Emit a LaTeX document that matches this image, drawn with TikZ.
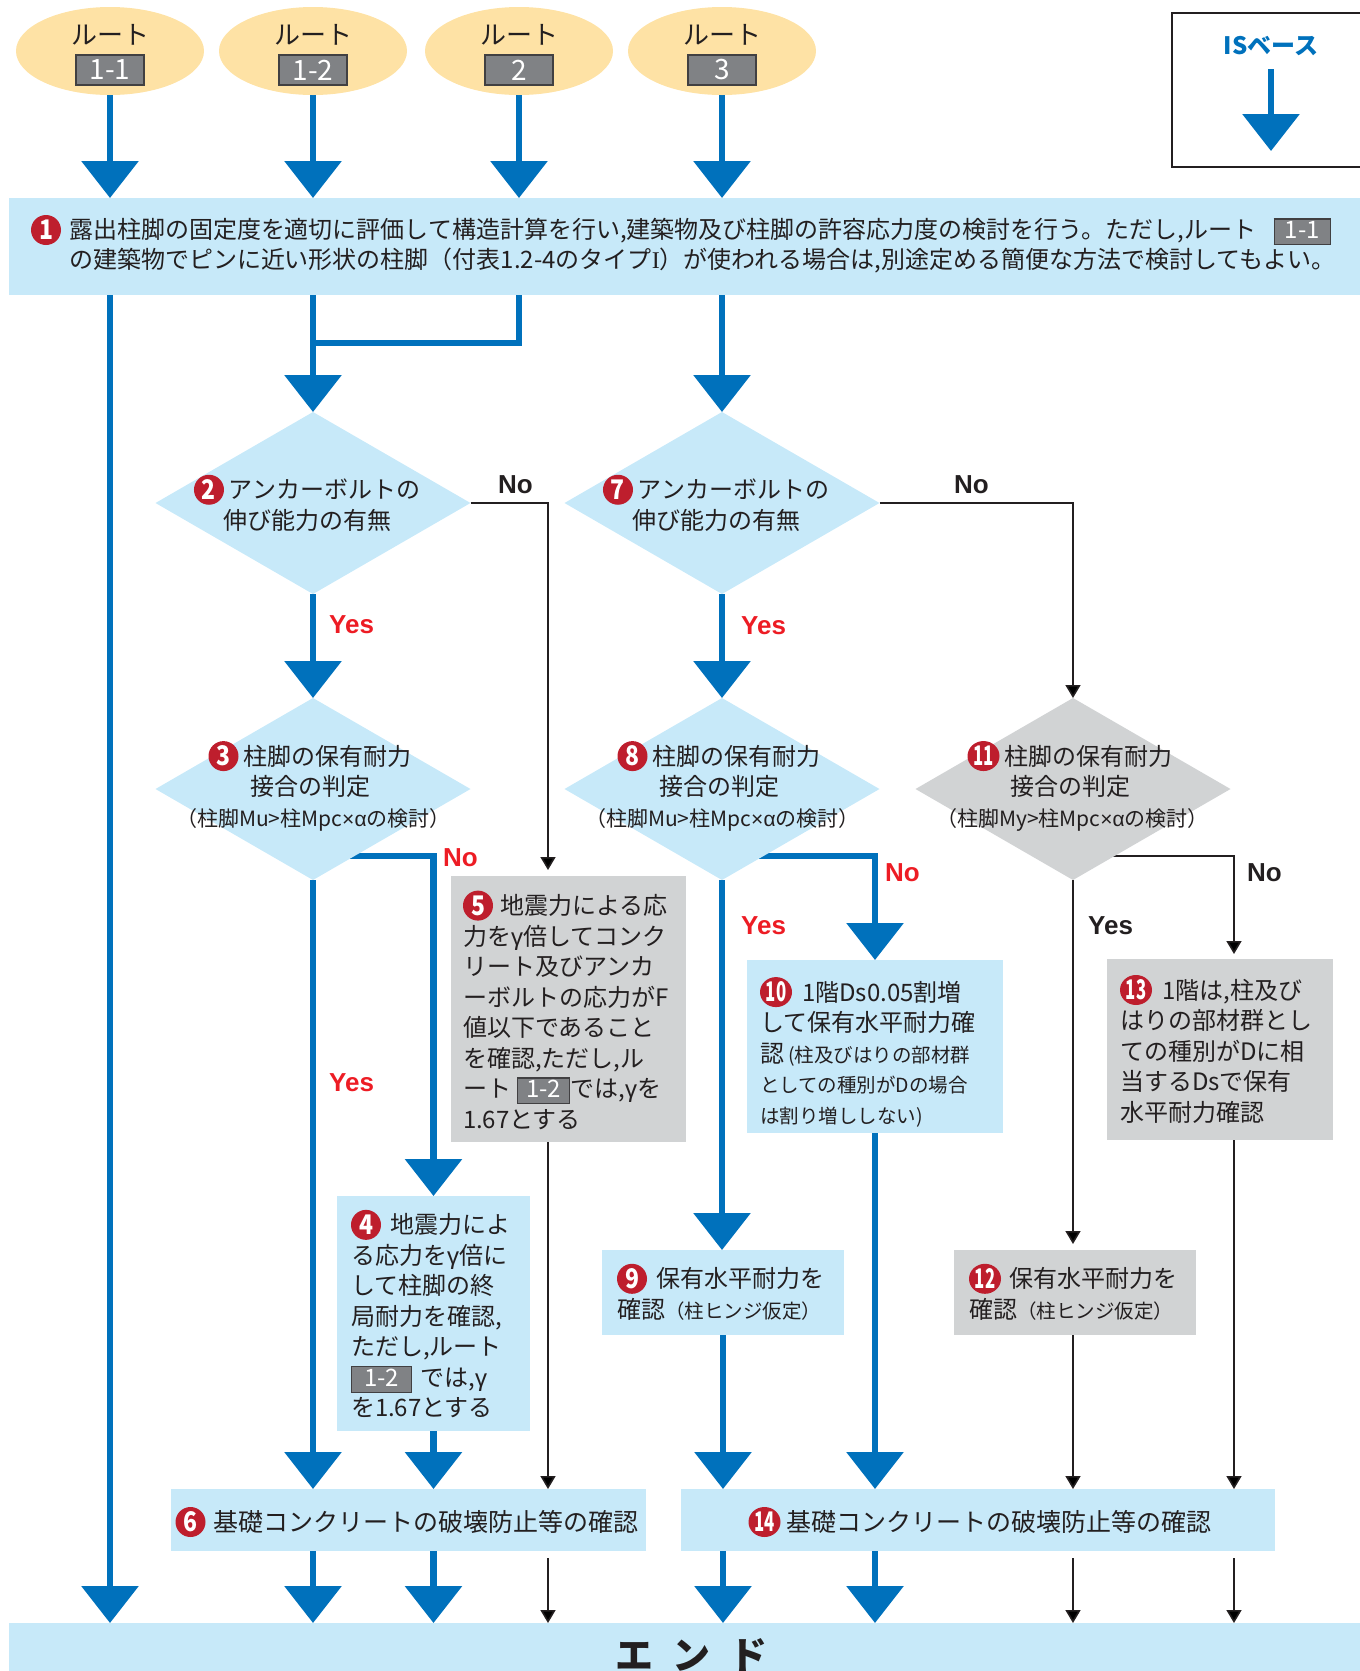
\documentclass[tikz,border=0pt]{standalone}
\usepackage{fontspec}
\usepackage{graphicx}
\setmainfont{Noto Sans CJK JP}
\newfontfamily\lat{Liberation Sans}
\newfontfamily\ser{Liberation Serif}
\usetikzlibrary{shapes.geometric,arrows.meta}
\XeTeXlinebreaklocale "ja"
\XeTeXlinebreakskip=0pt plus 6pt
\definecolor{lb}{RGB}{199,233,249}
\definecolor{blueA}{RGB}{0,113,188}
\definecolor{gbox}{RGB}{209,211,212}
\definecolor{peach}{RGB}{254,226,165}
\definecolor{numred}{RGB}{190,30,45}
\definecolor{redtxt}{RGB}{237,28,36}
\definecolor{ink}{RGB}{35,31,32}
\definecolor{boxgray}{RGB}{128,130,133}
\definecolor{boxedge}{RGB}{65,64,66}
\setlength\fboxsep{1.5pt}
\setlength\fboxrule{1.2pt}
\newcommand\rnum[2][30pt]{\tikz[baseline={([yshift=-9pt]rn.center)}]\node[shape=ellipse,anchor=center,fill=numred,draw=none,text=white,inner sep=0pt,outer sep=0pt,minimum width=#1,minimum height=30pt,align=center,font=\fontsize{27}{27}\selectfont\bfseries](rn){#2};}
\newcommand\rbox[2][50pt]{\fcolorbox{boxedge}{boxgray}{\rule[-4pt]{0pt}{21pt}\makebox[#1]{\textcolor{white}{#2}}}}
\newcommand\jl[2]{\makebox[#1][s]{#2}}
\newcommand\sm{\fontsize{19.5}{30.5}\selectfont}
\newcommand\tw[1]{\scalebox{0.62}[1]{#1}}
\newcommand\on[1]{\scalebox{0.85}[1]{#1}}
\pgfdeclarelayer{bg}
\pgfsetlayers{bg,main}
\begin{document}
\begin{tikzpicture}[x=1pt,y=-1pt,
  txt/.style={inner sep=0pt,outer sep=0pt,text=ink,align=left,font=\fontsize{24}{30.5}\selectfont},
  ctxt/.style={txt,align=center},
  bx/.style={shape=rectangle,inner sep=0pt,outer sep=0pt,draw=none},
  dia/.style={shape=diamond,aspect=1.73,minimum width=315pt,minimum height=182pt,inner sep=0pt,outer sep=0pt,draw=none},
  ell/.style={shape=ellipse,fill=peach,minimum width=188pt,minimum height=88pt,inner sep=0pt,draw=none},
  lblbox/.style={shape=rectangle,fill=boxgray,draw=boxedge,line width=1.2pt,text=white,minimum width=68pt,minimum height=30pt,inner sep=0pt,font=\fontsize{28}{28}\selectfont},
  rt/.style={inner sep=0pt,text=ink,font=\fontsize{26}{26}\selectfont},
  numc/.style={shape=ellipse,fill=numred,draw=none,text=white,inner sep=0pt,minimum width=30pt,minimum height=30pt,font=\fontsize{27}{27}\selectfont\bfseries},
  barrow/.style={draw=blueA,line width=6.5pt,-{Triangle[width=56pt,length=37pt]}},
  bline/.style={draw=blueA,line width=6.5pt},
  karrow/.style={draw=ink,line width=1.6pt,-{Triangle[width=15pt,length=13pt]}},
  lab/.style={inner sep=0pt,anchor=west,font=\lat\bfseries\fontsize{26}{26}\selectfont},
]
\useasboundingbox (0,0) rectangle (1360,1671);

% route ellipses
\foreach \nm/\x/\t in {1/110/1-1,2/313/1-2,3/519/2,4/722/3}{
  \node[ell] (e\nm) at (\x,51) {};
  \node[rt] (r\nm) at (\x,35) {ルート};
  \node[lblbox] (b\nm) at (\x,70) {\t};
}

% IS base legend
\node[bx,draw=ink,line width=1.3pt,minimum width=200pt,minimum height=154pt] (isbox) at (1272,90) {};
\node[inner sep=0pt,text=blueA,font=\bfseries\fontsize{24}{24}\selectfont] (is) at (1271,46) {ISベース};
\coordinate (isA) at (1271,69);
\coordinate (isB) at (1271,151);

% node 1
\node[bx,fill=lb,minimum width=1360pt,minimum height=97pt] (n1) at (689,246.5) {};
\node[numc] (t1n) at (46,230) {\on{1}};
\node[txt,anchor=west] (t1) at (69,245.5) {\jl{1262pt}{露出柱脚の固定度を適切に評価して構造計算を行い,建築物及び柱脚の許容応力度の検討を行う。ただし,ルート \rbox[52pt]{1-1}}\\
\jl{1268pt}{の建築物でピンに近い形状の柱脚（付表1.2-4のタイプ{\ser I}）が使われる場合は,別途定める簡便な方法で検討してもよい。}};

% diamonds
\node[dia,fill=lb] (d2) at (313,503) {};
\node[ctxt] (td2) at (307,503) {\rnum{\on{2}}\hspace{5pt}アンカーボルトの\\伸び能力の有無};
\node[dia,fill=lb] (d7) at (722,503) {};
\node[ctxt] (td7) at (716,503) {\rnum{\on{7}}\hspace{5pt}アンカーボルトの\\伸び能力の有無};
\node[dia,fill=lb] (d3) at (313,789) {};
\node[ctxt] (td3) at (310,786) {\rnum{\on{3}}\hspace{5pt}柱脚の保有耐力\\接合の判定\\{\fontsize{21}{30.5}\selectfont\jl{268pt}{（柱脚Mu>柱Mpc{\lat ×}{\lat α}の検討）}}};
\node[dia,fill=lb] (d8) at (722,789) {};
\node[ctxt] (td8) at (719,786) {\rnum{\on{8}}\hspace{5pt}柱脚の保有耐力\\接合の判定\\{\fontsize{21}{30.5}\selectfont\jl{268pt}{（柱脚Mu>柱Mpc{\lat ×}{\lat α}の検討）}}};
\node[dia,fill=gbox] (d11) at (1073,789) {};
\node[ctxt] (td11) at (1070,786) {\rnum[32pt]{\tw{11}}\hspace{5pt}柱脚の保有耐力\\接合の判定\\{\fontsize{21}{30.5}\selectfont\jl{268pt}{（柱脚My>柱Mpc{\lat ×}{\lat α}の検討）}}};

% boxes
\node[bx,fill=lb,minimum width=193pt,minimum height=235pt] (n4) at (433.5,1313.5) {};
\node[txt,anchor=west] (t4) at (351,1314) {\jl{166pt}{\rnum{\on{4}}\hspace{9pt}地震力によ}\\
\jl{166pt}{る応力を{\lat γ}倍に}\\
\jl{166pt}{して柱脚の終}\\
\jl{166pt}{局耐力を確認,}\\
\jl{166pt}{ただし,ルート}\\
\jl{166pt}{\rbox[56pt]{1-2}\hspace{8pt}では,{\lat γ}}\\
を1.67とする};

\node[bx,fill=gbox,minimum width=235pt,minimum height=266pt] (n5) at (568.5,1009) {};
\node[txt,anchor=west] (t5) at (463,1010) {\jl{211pt}{\rnum{\on{5}}\hspace{7pt}地震力による応}\\
\jl{211pt}{力を{\lat γ}倍してコンク}\\
\jl{211pt}{リート及びアンカ}\\
\jl{211pt}{ーボルトの応力がF}\\
\jl{211pt}{値以下であること}\\
\jl{211pt}{を確認,ただし,ル}\\
\jl{211pt}{ート\hspace{6pt}\rbox[48pt]{1-2}では,{\lat γ}を}\\
1.67とする};

\node[bx,fill=lb,minimum width=475pt,minimum height=62pt] (n6) at (408.5,1520) {};
\node[txt,font=\fontsize{25}{30}\selectfont] (t6) at (407,1522) {\rnum{\on{6}}\hspace{8pt}基礎コンクリートの破壊防止等の確認};

\node[bx,fill=lb,minimum width=242pt,minimum height=85pt] (n9) at (723,1292.5) {};
\node[txt,anchor=west] (t9) at (617,1292) {\rnum{\on{9}}\hspace{9pt}保有水平耐力を\\確認{\sm（柱ヒンジ仮定）}};

\node[bx,fill=lb,minimum width=256pt,minimum height=173pt] (n10) at (875,1046.5) {};
\node[txt,anchor=west] (t10) at (760,1052) {\jl{229pt}{\rnum[32pt]{\tw{10}}\hspace{10pt}1階Ds0.05割増}\\
\jl{229pt}{して保有水平耐力確}\\
\jl{229pt}{認\,{\sm (柱及びはりの部材群}}\\
\jl{229pt}{{\sm としての種別がDの場合}}\\
{\sm は割り増ししない)}};

\node[bx,fill=gbox,minimum width=242pt,minimum height=85pt] (n12) at (1075,1292.5) {};
\node[txt,anchor=west] (t12) at (969,1292) {\rnum[32pt]{\tw{12}}\hspace{8pt}保有水平耐力を\\確認{\sm（柱ヒンジ仮定）}};

\node[bx,fill=gbox,minimum width=226pt,minimum height=181pt] (n13) at (1220,1049.5) {};
\node[txt,anchor=west] (t13) at (1120,1049) {\jl{199pt}{\rnum[32pt]{\tw{13}}\hspace{10pt}1階は,柱及び}\\
\jl{199pt}{はりの部材群とし}\\
\jl{199pt}{ての種別がDに相}\\
\jl{199pt}{当するDsで保有}\\
水平耐力確認};

\node[bx,fill=lb,minimum width=594pt,minimum height=62pt] (n14) at (978,1520) {};
\node[txt,font=\fontsize{25}{30}\selectfont] (t14) at (980,1522) {\rnum[32pt]{\tw{14}}\hspace{6pt}基礎コンクリートの破壊防止等の確認};

\node[bx,fill=lb,minimum width=1360pt,minimum height=57pt] (end) at (689,1651.5) {};
\node[inner sep=0pt,text=ink,font=\bfseries\fontsize{38}{38}\selectfont] (endt) at (691,1655) {エ\hspace{19pt}ン\hspace{19pt}ド};

% labels
\node[lab,text=redtxt] (y2) at (329,625) {Yes};
\node[lab,text=redtxt] (y7) at (741,626) {Yes};
\node[lab,text=redtxt] (y3) at (329,1083) {Yes};
\node[lab,text=redtxt] (y8) at (741,926) {Yes};
\node[lab,text=redtxt] (no3) at (443,858) {No};
\node[lab,text=redtxt] (no8) at (885,873) {No};
\node[lab,text=ink] (no2) at (498,485) {No};
\node[lab,text=ink] (no7) at (954,485) {No};
\node[lab,text=ink] (no11) at (1247,873) {No};
\node[lab,text=ink] (y11) at (1088,926) {Yes};

% helper coordinates
\coordinate (m2) at (313,343);
\coordinate (c5in) at (548,870);
\coordinate (c5out) at (548,1558);
\coordinate (c13) at (1234,954);
\coordinate (k12) at (1073,1244);
\coordinate (k12b) at (1073,1558);
\coordinate (k13b) at (1234,1558);

\begin{pgfonlayer}{bg}
% blue flows
\foreach \e in {e1,e2,e3,e4}{\draw[barrow] (\e.south) -- (\e.south |- n1.north);}
\draw[barrow] (isA) -- (isB);
\draw[barrow] (n1.south -| e1.south) -- (e1.south |- end.north);
\draw[barrow] (n1.south -| d2.north) -- (d2.north);
\draw[bline] (n1.south -| e3.south) |- (m2);
\draw[barrow] (n1.south -| d7.north) -- (d7.north);
\draw[barrow] (d2.south) -- (d3.north);
\draw[barrow] (d7.south) -- (d8.north);
\draw[barrow] ([yshift=-67pt]d3.center) -| (n4.north);
\draw[barrow] (d3.south) -- (d3.south |- n6.north);
\draw[barrow] (n4.south) -- (n4.south |- n6.north);
\draw[barrow] (n6.south -| d3.south) -- (d3.south |- end.north);
\draw[barrow] (n6.south -| n4.south) -- (n4.south |- end.north);
\draw[barrow] ([yshift=-67pt]d8.center) -| (n10.north);
\draw[barrow] (d8.south) -- (d8.south |- n9.north);
\draw[barrow] (n9.south) -- (n9.south |- n14.north);
\draw[barrow] (n10.south) -- (n10.south |- n14.north);
\draw[barrow] (n14.south -| n9.south) -- (n9.south |- end.north);
\draw[barrow] (n14.south -| n10.south) -- (n10.south |- end.north);
% black flows
\draw[karrow] (d2.east) -| (c5in);
\draw[karrow] (c5in |- n5.south) -- (c5in |- n6.north);
\draw[karrow] (c5out) -- (c5out |- end.north);
\draw[karrow] (d7.east) -| (d11.north);
\draw[karrow] ([yshift=-67pt]d11.center) -| (c13);
\draw[karrow] (d11.south) -- (k12);
\draw[karrow] (n12.south -| k12) -- (k12 |- n14.north);
\draw[karrow] (n13.south -| c13) -- (c13 |- n14.north);
\draw[karrow] (k12b) -- (k12b |- end.north);
\draw[karrow] (k13b) -- (k13b |- end.north);
\end{pgfonlayer}
\end{tikzpicture}
\end{document}
